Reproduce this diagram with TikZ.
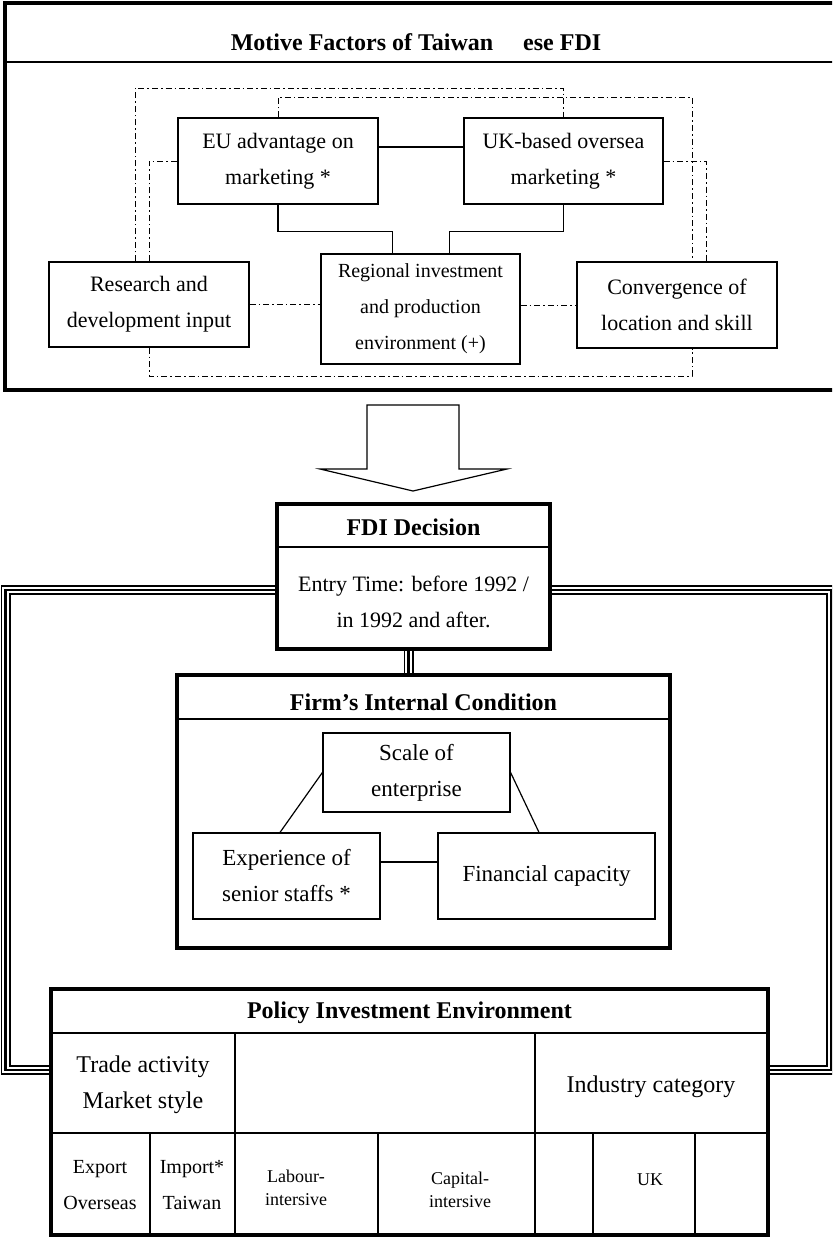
\documentclass[tikz,border=0pt]{standalone}
\usepackage{fontspec}
\setmainfont{Liberation Serif}
\usetikzlibrary{calc}

\tikzset{
  thinline/.style={line width=0.6pt},
  frame/.style={line width=1.8pt},
  box/.style={draw, line width=0.6pt, inner sep=0pt, align=center,
    font=\fontsize{11}{18}\selectfont},
  framebox/.style={draw, line width=1.8pt, inner sep=0pt},
  title/.style={font=\fontsize{12}{14}\selectfont\bfseries, inner sep=0pt},
  dashdot/.style={line width=0.5pt, dash pattern=on 3pt off 1.5pt on 0.8pt off 1.5pt},
  triple/.style={line width=1.4pt, preaction={draw, line width=5pt},
    preaction={draw, white, line width=3.2pt}},
  cell/.style={inner sep=0pt, align=center, font=\fontsize{12}{18}\selectfont},
  smallcell/.style={inner sep=0pt, align=center, font=\fontsize{10}{18}\selectfont},
  tinycell/.style={inner sep=0pt, align=center, font=\fontsize{9}{11.5}\selectfont}
}

\begin{document}
\begin{tikzpicture}[x=0.5pt,y=-0.5pt]
  \useasboundingbox (0,0) rectangle (832,1237);
  \clip (0,0) rectangle (832,1237);
  \fill[white] (0,0) rectangle (832,1237);

  % motive factors
  \draw[frame] (5,3) rectangle (840,390);
  \draw[thinline] (5,62) -- (840,62);
  \node[title] (motive) at (416,42) {Motive Factors of Taiwan\hspace{15pt}ese FDI};

  \node[box, minimum width=100pt, minimum height=43pt] (eu) at (278,161) {EU advantage on\\marketing *};
  \node[box, minimum width=99.5pt, minimum height=43pt] (uk) at (563.5,161) {UK-based oversea\\marketing *};
  \node[box, minimum width=100pt, minimum height=42.5pt] (rd) at (149,304.5) {Research and\\development input};
  \node[box, minimum width=99.5pt, minimum height=55pt, font=\fontsize{10}{18}\selectfont] (reg) at (420.5,309) {Regional investment\\and production\\environment (+)};
  \node[box, minimum width=100pt, minimum height=43pt] (conv) at (677,305) {Convergence of\\location and skill};

  \coordinate (outertop) at (0,88);
  \coordinate (innertop) at (0,97);
  \coordinate (bottomrun) at (0,376);

  % solid links
  \draw[thinline] ($(eu.east)+(0,-14)$) -- ($(uk.west)+(0,-14)$);
  \draw[thinline] (eu.south) |- ($(reg.north)+(-28,-22)$) -- ($(reg.north)+(-28,0)$);
  \draw[thinline] (uk.south) |- ($(reg.north)+(29,-22)$) -- ($(reg.north)+(29,0)$);

  % dash-dot links
  \draw[dashdot] ($(rd.north)+(-14,0)$) |- (uk.north |- outertop) -- (uk.north);
  \draw[dashdot] (eu.north) |- ($(conv.north |- innertop)+(15,0)$) -- ($(conv.north)+(15,0)$);
  \draw[dashdot] (rd.north) |- (eu.west);
  \draw[dashdot] (uk.east) -| ($(conv.north)+(29,0)$);
  \draw[dashdot] (rd.east) -- (rd.east -| reg.west);
  \draw[dashdot] (reg.east |- conv.west) -- (conv.west);
  \draw[dashdot] (rd.south) |- ($(conv.south |- bottomrun)+(15,0)$) -- ($(conv.south)+(15,0)$);

  % big arrow
  \draw[thinline] (367,405) -- (459,405) -- (459,469) -- (507,469) -- (413,491)
    -- (320,469) -- (367,469) -- cycle;

  % fdi decision
  \node[framebox, minimum width=136.5pt, minimum height=72.5pt] (fdi) at (413.5,576.5) {};
  \draw[thinline] (277,547) -- (550,547);
  \node[title] (fdititle) at (413.5,527) {FDI Decision};
  \node[box, draw=none] (entry) at (413.5,602) {Entry Time: before 1992 /\\in 1992 and after.};

  % firm
  \node[framebox, minimum width=246.5pt, minimum height=136.5pt] (firm) at (423.5,811.5) {};
  \draw[thinline] (177,719) -- (670,719);
  \node[title] (firmtitle) at (423.5,702) {Firm’s Internal Condition};
  \node[box, minimum width=93.5pt, minimum height=39.5pt, font=\fontsize{11.5}{18}\selectfont] (scale) at (416.5,772.5) {Scale of\\enterprise};
  \node[box, minimum width=93.5pt, minimum height=43pt, font=\fontsize{11.5}{18}\selectfont] (exper) at (286.5,876) {Experience of\hspace{6pt}\\senior staffs *\hspace{6pt}};
  \node[box, minimum width=108.5pt, minimum height=43pt, font=\fontsize{11.5}{18}\selectfont] (fin) at (546.5,876) {Financial capacity};
  \coordinate (el) at ($(exper.east)+(0,-14)$);
  \draw[thinline] (scale.west) -- ($(exper.north)+(-6.5,0)$);
  \draw[thinline] (scale.east) -- ($(fin.north)+(-7.5,0)$);
  \draw[thinline] (el) -- (el -| fin.west);

  % policy
  \node[framebox, minimum width=358.5pt, minimum height=123pt] (policy) at (409.5,1112) {};
  \draw[thinline] (51,1033) -- (768,1033);
  \draw[thinline] (51,1133) -- (768,1133);
  \draw[thinline] (235,1033) -- (235,1237);
  \draw[thinline] (535,1033) -- (535,1237);
  \foreach \cx in {150,378,593,695}
    \draw[thinline] (\cx,1133) -- (\cx,1237);
  \node[title] (policytitle) at (409.5,1013) {Policy Investment Environment};
  \node[cell] (trade) at (143,1085) {Trade activity\\Market style};
  \node[cell] (industry) at (651,1087) {Industry category};
  \node[smallcell] (export) at (100,1185) {Export\\Overseas};
  \node[smallcell] (import) at (192,1185) {Import*\\Taiwan};
  \node[tinycell] (labour) at (296,1188) {Labour-\\intersive};
  \node[tinycell] (capital) at (460,1190) {Capital-\\intersive};
  \node[tinycell] (ukcell) at (650,1180) {UK};

  % triple lines
  \coordinate (lefttop) at ($(fdi.west)+(0,13.5)$);
  \coordinate (righttop) at ($(fdi.east)+(0,13.5)$);
  \coordinate (fdilink) at ($(fdi.south)+(-5,0)$);
  \draw[triple] (lefttop) -| (5.5,1070) -- ($(policy.west)+(0,-42)$);
  \draw[triple] (righttop) -| (831,1070) -- ($(policy.east)+(0,-42)$);
  \draw[triple] (fdilink) -- (fdilink |- firm.north);
\end{tikzpicture}
\end{document}
